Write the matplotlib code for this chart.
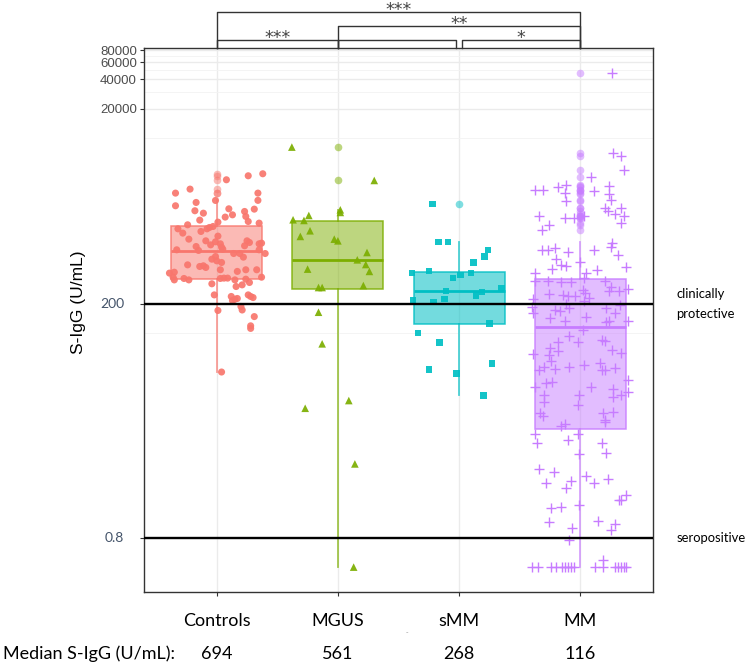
import matplotlib.pyplot as plt
from matplotlib.colors import to_rgba
from matplotlib.ticker import NullFormatter
from matplotlib.transforms import blended_transform_factory

# groups and summary numbers
groups = ['Controls', 'MGUS', 'sMM', 'MM']
median_text = ['694', '561', '268', '116']
box_q1 = [358, 285, 125, 10.5]
box_med = [694, 561, 268, 116]
box_q3 = [1242, 1400, 423, 360]
whisk_lo = [40, 0.4, 23.1, 0.4]
whisk_hi = [2300, 1840, 858, 859]

# individual S-IgG values (U/mL) and their horizontal jitter
ctrl_vals = [4310, 4110, 3740, 2730, 3000, 2730, 2300, 2025, 2190, 2295,
             1800, 1700, 1885, 1635, 1870, 1770, 1550, 1574, 1443, 1397,
             1376, 1344, 1292, 1213, 1242, 1175, 1175, 1062, 1104, 989,
             921, 885, 805, 865, 825, 762, 728, 885, 851, 787,
             825, 838, 716, 656, 774, 705, 716, 656, 656, 602,
             611, 574, 552, 531, 491, 483, 472, 502, 447, 447,
             447, 430, 413, 422, 375, 352, 364, 352, 364, 367,
             367, 352, 358, 375, 321, 301, 313, 331, 247, 238,
             216, 223, 227, 247, 238, 232, 188, 173, 171, 148,
             119, 112, 40]
ctrl_jit = [0.38, 0.26, 0.08, -0.34, -0.22, 0.34, 0.34, -0.34, -0.17, -0.01,
            -0.18, -0.11, 0.10, 0.13, 0.31, 0.23, 0.07, 0.24, -0.14, 0.26,
            0.01, 0.35, -0.24, -0.06, -0.03, -0.08, -0.32, -0.28, -0.13, 0.01,
            -0.23, -0.09, -0.05, -0.01, 0.03, 0.04, 0.05, 0.25, 0.27, 0.23,
            0.35, 0.37, 0.35, 0.40, -0.17, -0.15, -0.33, 0.14, 0.19, 0.22,
            -0.01, -0.04, 0.00, 0.04, -0.11, -0.14, -0.09, -0.24, 0.03, 0.24,
            0.33, 0.17, -0.39, -0.35, -0.36, -0.35, -0.27, -0.23, 0.03, 0.06,
            0.09, 0.15, 0.24, 0.37, -0.04, 0.16, 0.21, 0.27, -0.02, 0.12,
            0.13, 0.15, 0.17, 0.26, 0.28, 0.30, 0.20, 0.21, 0.01, 0.31,
            0.28, 0.28, 0.04]

mgus_vals = [8090, 3680, 1840, 1730, 1610, 1455, 1432, 1122, 982, 921,
             885, 672, 565, 506, 454, 430, 294, 294, 308, 164,
             77.8, 20.4, 17.0, 4.57, 0.4]
mgus_jit = [-0.38, 0.30, 0.02, 0.02, -0.24, -0.37, -0.28, -0.23, -0.31, -0.03,
            0.00, 0.24, 0.16, 0.23, -0.25, 0.26, -0.16, -0.13, 0.21, -0.16,
            -0.13, 0.09, -0.27, 0.14, 0.13]

smm_vals = [2120, 858, 858, 716, 611, 531, 416, 436, 367, 397,
            416, 270, 243, 265, 290, 223, 220, 210, 125, 100,
            80, 49, 42.4, 38.6, 23.1]
smm_jit = [-0.22, -0.17, -0.09, 0.24, 0.21, 0.12, -0.39, -0.25, -0.05, 0.01,
           0.10, -0.11, 0.14, 0.19, 0.35, -0.12, -0.38, -0.21, 0.25, -0.34,
           -0.16, 0.27, -0.25, -0.02, 0.20]

mm_vals = [46500,
           7020, 6490, 4660, 3980, 2910, 2950, 3145, 3320, 2730, 2240,
           2840, 3195, 2690, 2330, 1916, 1770, 1675, 1916, 1600, 1344,
           1574, 1292, 1130, 1500, 1500, 1600, 850, 762, 636, 716,
           705, 716, 745, 678, 574, 502, 491, 454, 531, 447,
           472, 413, 413, 367,
           339, 339, 331, 331, 339, 301, 268, 268, 283, 253,
           247, 242, 242, 278, 257, 229, 223, 185, 160, 173,
           167, 200, 181, 216, 181, 195, 160, 143, 132, 146,
           129, 132, 132, 108, 94, 82, 82, 84, 85, 67.5,
           62.4, 70.2, 60.0, 66.4, 61.4, 52.5, 45.5, 42.1, 42.8, 44.8,
           47.3, 50.0, 42.1, 42.1, 43.8, 33.2, 27.9, 31.2, 31.9, 27.9,
           26.7, 22.1, 23.3, 25.2, 23.3, 19.9, 23.3, 18.4, 15.1, 14.0,
           15.1, 15.7, 12.9,
           11.7, 11.2, 12.4, 9.29, 9.29, 7.57, 8.06, 7.57, 5.88, 5.79,
           4.03, 3.81, 2.94, 3.08, 2.57, 3.44, 2.94, 3.18, 1.95, 1.93,
           2.20, 1.60, 1.67, 1.72, 1.17, 1.19, 1.11, 0.95, 1.00, 0.75,
           0.47,
           0.4, 0.4, 0.4, 0.4, 0.4, 0.4, 0.4, 0.4, 0.4, 0.4,
           0.4, 0.4, 0.4, 0.4, 0.4, 0.4]
mm_jit = [0.26,
          0.27, 0.34, 0.36, 0.09, -0.37, -0.31, -0.18, -0.12, -0.13, -0.12,
          0.11, 0.24, 0.24, 0.25, 0.20, 0.23, 0.29, 0.34, 0.36, 0.34,
          -0.34, -0.26, -0.32, -0.13, -0.05, 0.03, 0.26, 0.25, 0.31, 0.11,
          -0.32, -0.27, -0.21, -0.10, -0.20, -0.16, -0.12, -0.23, 0.00, 0.14,
          0.38, -0.37, 0.05, 0.03,
          -0.37, -0.27, -0.16, -0.08, 0.20, 0.25, 0.24, 0.32, 0.39, -0.26,
          -0.14, -0.10, -0.04, 0.02, 0.04, 0.07, -0.39, -0.40, -0.39, -0.21,
          -0.17, -0.12, -0.09, 0.03, 0.21, 0.33, 0.29, -0.25, -0.13, 0.05,
          0.21, 0.24, 0.39, 0.02, -0.09, -0.02, -0.18, 0.20, 0.18, 0.26,
          0.34, -0.25, -0.26, -0.18, -0.39, -0.24, -0.30, -0.34, -0.21, -0.09,
          0.03, 0.16, 0.18, 0.20, 0.29, 0.39, -0.37, -0.28, -0.23, 0.09,
          0.27, 0.27, 0.34, 0.39, -0.30, -0.30, -0.01, -0.02, -0.33, -0.31,
          0.19, 0.27, 0.20,
          -0.13, -0.16, 0.20, -0.02, -0.37, -0.36, -0.10, 0.18, 0.21, -0.01,
          -0.34, -0.22, -0.28, -0.08, -0.12, 0.05, 0.11, 0.23, 0.32, 0.34,
          0.38, -0.24, -0.16, -0.01, -0.26, 0.15, 0.29, 0.25, -0.07, -0.09,
          0.19,
          -0.40, -0.35, -0.24, -0.20, -0.15, -0.13, -0.10, -0.08, -0.05, 0.12,
          0.19, 0.29, 0.31, 0.34, 0.36, 0.38]

all_vals = [ctrl_vals, mgus_vals, smm_vals, mm_vals]
all_jit = [ctrl_jit, mgus_jit, smm_jit, mm_jit]

# reference lines and significance brackets
ref_levels = [200, 0.8]
ref_names = ['clinically\nprotective', 'seropositive']
br_x0 = [1, 2, 3.025, 2, 1]
br_x1 = [2, 2.975, 4, 4, 4]
br_text = ['***', '', '*', '**', '***']
br_level = [0, 0, 0, 1, 2]

y_breaks = [0.8, 200, 20000, 40000, 60000, 80000]
y_minor = [100.4, 10100, 30000, 50000, 70000]

colors = ['#F8766D', '#7CAE00', '#00BFC4', '#C77CFF']
markers = ['o', '^', 's', '+']
msizes = [26, 30, 22, 60]
fill_alpha = [0.5, 0.5, 0.55, 0.5]

fig = plt.figure(figsize=(7.49, 6.68), dpi=100)
ax = fig.add_axes([144 / 749, 76 / 668, 509 / 749, 544 / 668])
ax.set_yscale('log')
ax.set_xlim(0.4, 4.6)
ax.set_ylim(0.2223, 83900)

pos = [1, 2, 3, 4]
stats = []
for i in range(4):
    fl = [v for v in all_vals[i] if v > whisk_hi[i] or v < whisk_lo[i]]
    stats.append(dict(med=box_med[i], q1=box_q1[i], q3=box_q3[i],
                      whislo=whisk_lo[i], whishi=whisk_hi[i], fliers=fl))

art = ax.bxp(stats, positions=pos, widths=0.75, patch_artist=True,
             showcaps=False, flierprops=dict(marker='o'))
for i, c in enumerate(colors):
    art['boxes'][i].set(facecolor=to_rgba(c, fill_alpha[i]),
                        edgecolor=to_rgba(c, 0.85), linewidth=1.1, zorder=2)
    art['medians'][i].set(color=c, linewidth=2.0, zorder=2.5)
    for w in art['whiskers'][2 * i:2 * i + 2]:
        w.set(color=to_rgba(c, 0.7), linewidth=1.3, zorder=1.5)
    art['fliers'][i].set(marker='o', markerfacecolor=to_rgba(c, 0.5),
                         markeredgecolor='none', markersize=5.5, zorder=2.6)

for i in range(4):
    xs = [pos[i] + j for j in all_jit[i]]
    if markers[i] == '+':
        ax.scatter(xs, all_vals[i], marker='+', s=msizes[i], color=colors[i],
                   linewidths=1.0, zorder=3)
    else:
        ax.scatter(xs, all_vals[i], marker=markers[i], s=msizes[i],
                   color=colors[i], alpha=0.92, edgecolors='none', zorder=3)

for lv in ref_levels:
    ax.axhline(lv, color='black', lw=1.7, zorder=5)

# ticks, grid, frame
ax.set_yticks(y_breaks)
ax.set_yticklabels(['', ''] + [str(v) for v in y_breaks[2:]])
ax.set_yticks(y_minor, minor=True)
ax.yaxis.set_minor_formatter(NullFormatter())
ax.tick_params(axis='y', which='minor', length=0)
ax.tick_params(axis='y', which='major', length=3, width=0.8, color='#333333',
               labelsize=9.5, labelcolor='#4D4D4D', pad=2)
for lab in ax.get_yticklabels():
    lab.set_fontfamily('Liberation Sans')
ax.set_xticks(pos)
ax.set_xticklabels(groups, fontfamily='Lato', fontsize=13)
ax.tick_params(axis='x', length=3, width=0.8, color='#333333', pad=12)
ax.grid(True, which='major', color='#EBEBEB', lw=1.0)
ax.grid(True, which='minor', axis='y', color='#F3F3F3', lw=0.6)
ax.set_axisbelow(True)
for s in ax.spines.values():
    s.set_color('#333333')
    s.set_linewidth(1.0)

ty = blended_transform_factory(ax.transAxes, ax.transData)
tx = blended_transform_factory(ax.transData, ax.transAxes)

for lv in ref_levels:
    ax.text(-0.039, lv, ('%g' % lv), transform=ty, ha='right', va='center',
            color='#44546A', fontfamily='Lato', fontsize=10)
for lv, name in zip(ref_levels, ref_names):
    ax.text(1.046, lv, name, transform=ty, ha='left', va='center',
            fontfamily='Lato', fontsize=9.4, linespacing=1.8, clip_on=False)

# significance brackets above the panel
line_y = [1.014, 1.040, 1.0655]
text_y = [1.019, 1.045, 1.0705]
for x0, x1, t, lvl in zip(br_x0, br_x1, br_text, br_level):
    ax.plot([x0, x0, x1, x1], [1.0, line_y[lvl], line_y[lvl], 1.0],
            transform=tx, color='#333333', lw=1.0, clip_on=False)
    if t:
        ax.text((x0 + x1) / 2, text_y[lvl], t, transform=tx, ha='center',
                va='center', fontsize=12.5, color='#444444', fontfamily='DejaVu Sans')

# medians row under the chart
fig.text(3 / 749, 14 / 668, 'Median S-IgG (U/mL):', ha='left', va='center',
         fontfamily='Lato', fontsize=13)
for p, t in zip(pos, median_text):
    ax.text(p, -0.114, t, transform=tx, ha='center', va='center',
            fontfamily='Lato', fontsize=13)
fig.text(407 / 749, 36 / 668, '-', ha='center', va='center', fontsize=5,
         color='#999999')

fig.text(78 / 749, (668 - 302) / 668, 'S-IgG (U/mL)', rotation=90,
         ha='center', va='center', fontfamily='Liberation Sans', fontsize=12.5)

fig.savefig('out.png', dpi=100)
